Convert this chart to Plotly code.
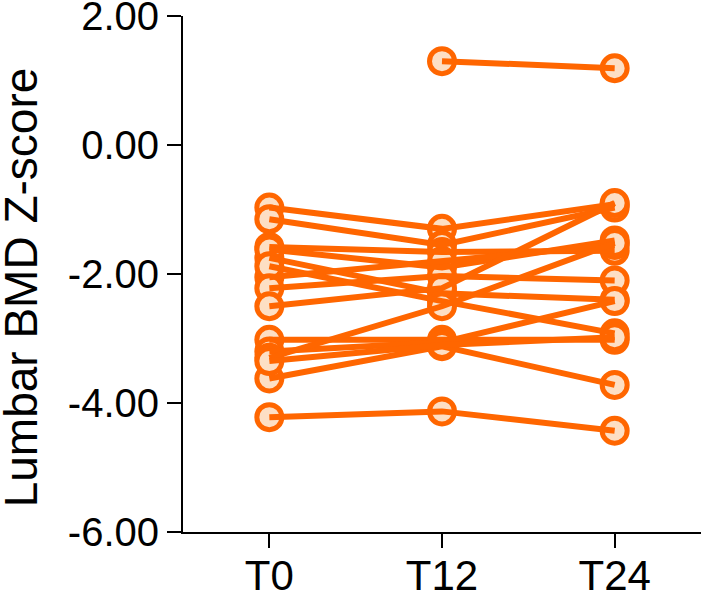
import plotly.graph_objects as go

# Data (Lumbar BMD Z-score per subject at T0, T12, T24)
timepoints = ["T0", "T12", "T24"]
t0 = [None, -0.97, -1.15, -1.58, -1.75, -1.62, -2.05, -1.88, -2.22, -2.50, -3.02, -3.20, -3.30, -3.62, -4.22, -3.35]
t12 = [1.30, -1.30, -1.55, -1.66, -2.30, -1.90, -1.80, -2.42, -2.03, -2.22, -3.02, -3.06, -2.50, -3.12, -4.13, -3.10]
t24 = [1.19, -0.92, -0.97, -1.64, -2.40, -1.48, -1.55, -2.92, -2.10, -0.90, -3.02, -2.42, -1.52, -3.72, -4.43, -2.98]
y_ticks = [2, 0, -2, -4, -6]
y_title = "Lumbar BMD Z-score"

ORANGE = "#FF6600"
FILL = "#FDDFC4"
FONT = "Liberation Sans, Arial, sans-serif"

xpos = list(range(len(timepoints)))
fig = go.Figure()

# markers first, lines drawn on top (as in the original)
for vals in zip(t0, t12, t24):
    fig.add_trace(go.Scatter(
        x=xpos, y=list(vals), mode="markers",
        marker=dict(size=25, color=FILL, line=dict(color=ORANGE, width=5)),
        cliponaxis=False, showlegend=False, hoverinfo="skip"))
for vals in zip(t0, t12, t24):
    fig.add_trace(go.Scatter(
        x=xpos, y=list(vals), mode="lines",
        line=dict(color=ORANGE, width=6),
        cliponaxis=False, showlegend=False, connectgaps=False))

fig.update_layout(
    width=705, height=592,
    margin=dict(l=183, r=4, t=16, b=60, autoexpand=False),
    paper_bgcolor="white", plot_bgcolor="white",
    font=dict(family=FONT, color="black"),
)
fig.add_annotation(
    text=y_title, textangle=-90, xref="paper", yref="paper",
    x=-0.311, y=0.474, xanchor="center", yanchor="middle", showarrow=False,
    font=dict(size=46, family=FONT, color="black"),
)
fig.update_xaxes(
    range=[-0.5, 2.5], tickmode="array", tickvals=xpos, ticktext=timepoints,
    showline=True, linecolor="black", linewidth=2, mirror=False,
    ticks="outside", ticklen=14, tickwidth=2, tickcolor="black",
    ticklabeloverflow="allow", ticklabelstandoff=-8,
    showgrid=False, zeroline=False, tickfont=dict(size=42, family=FONT, color="black"),
)
fig.update_yaxes(
    range=[-6, 2], tickmode="array", tickvals=y_ticks,
    ticktext=[f"{v:.2f}" for v in y_ticks],
    showline=True, linecolor="black", linewidth=2,
    ticks="outside", ticklen=14, tickwidth=2, tickcolor="black",
    ticklabeloverflow="allow",
    showgrid=False, zeroline=False, tickfont=dict(size=40, family=FONT, color="black"),
)

fig.write_html("out.html", config={"displayModeBar": False},
               post_script="document.body.style.margin='0';")
